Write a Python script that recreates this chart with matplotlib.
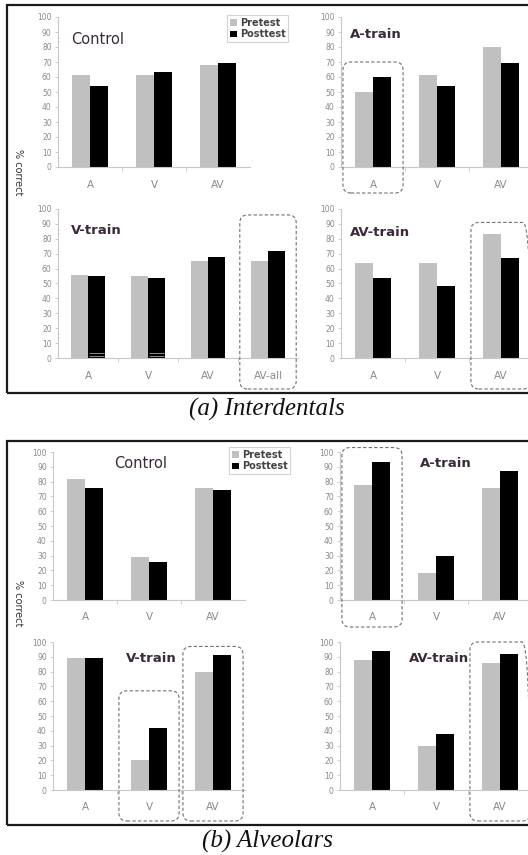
import matplotlib
matplotlib.use("Agg")
import matplotlib.pyplot as plt
from matplotlib.patches import FancyBboxPatch, Rectangle, Patch
from matplotlib.transforms import IdentityTransform
import numpy as np

# ---------------- data ----------------
cats3 = ["A", "V", "AV"]
cats4 = ["A", "V", "AV", "AV-all"]
series_names = ["Pretest", "Posttest"]

inter_control_pre = [61, 61, 68]
inter_control_post = [54, 63, 69]
inter_atrain_pre = [50, 61, 80]
inter_atrain_post = [60, 54, 69]
inter_vtrain_pre = [56, 55, 65, 65]
inter_vtrain_post = [55, 54, 68, 72]
inter_avtrain_pre = [64, 64, 83]
inter_avtrain_post = [54, 48, 67]

alv_control_pre = [82, 29, 76]
alv_control_post = [76, 26, 74]
alv_atrain_pre = [78, 18, 76]
alv_atrain_post = [93, 30, 87]
alv_vtrain_pre = [89, 20, 80]
alv_vtrain_post = [89, 42, 91]
alv_avtrain_pre = [88, 30, 86]
alv_avtrain_post = [94, 38, 92]

yticks = list(range(0, 101, 10))
captions = ["(a) Interdentals", "(b) Alveolars"]

# ---------------- figure ----------------
W, H = 528, 855
DPI = 100
fig = plt.figure(figsize=(W / DPI, H / DPI), dpi=DPI)
fig.patch.set_facecolor("white")

PRE_C = "#c0c0c0"
POST_C = "#000000"
AX_C = "#c8c8c8"
TICK_C = "#8a8a8a"
TITLE_C = "#3a2a3a"


def px_axes(left, right, top, bottom):
    return fig.add_axes([left / W, 1 - bottom / H, (right - left) / W, (bottom - top) / H])


def draw_panel(rect, cats, pre, post, title, title_xy, weight="bold", tsize=9.5):
    ax = px_axes(*rect)
    x = np.arange(len(cats))
    w = 0.28
    ax.bar(x - w / 2, pre, width=w, color=PRE_C, linewidth=0)
    ax.bar(x + w / 2, post, width=w, color=POST_C, linewidth=0)
    ax.set_xlim(-0.5, len(cats) - 0.5)
    ax.set_ylim(0, 100)
    for s in ["top", "right"]:
        ax.spines[s].set_visible(False)
    for s in ["left", "bottom"]:
        ax.spines[s].set_color(AX_C)
        ax.spines[s].set_linewidth(0.8)
    ax.set_yticks(yticks)
    ax.set_yticklabels([str(v) for v in yticks], fontsize=5.5, color=TICK_C)
    ax.tick_params(axis="y", length=2.5, width=0.6, color=AX_C, pad=2)
    ax.set_xticks(x)
    ax.set_xticklabels(cats, fontsize=7.5, color=TICK_C)
    ax.tick_params(axis="x", which="major", length=0, pad=9)
    ax.set_xticks(np.arange(0.5, len(cats) - 0.5, 1.0), minor=True)
    ax.tick_params(axis="x", which="minor", length=3, width=0.6, color=AX_C)
    ax.patch.set_alpha(0)
    fig.text(title_xy[0] / W, 1 - title_xy[1] / H, title, fontsize=tsize,
             fontweight=weight, color=TITLE_C, ha="left", va="center")
    return ax


# top group (Interdentals)
a_ctrl = draw_panel((58, 250, 17, 167), cats3, inter_control_pre, inter_control_post, "Control", (71, 40),
                    weight="normal", tsize=10.5)
a_atr = draw_panel((341, 533, 17, 167), cats3, inter_atrain_pre, inter_atrain_post, "A-train", (350, 35))
a_vtr = draw_panel((58, 298, 209, 358), cats4, inter_vtrain_pre, inter_vtrain_post, "V-train", (71, 231))
a_avtr = draw_panel((341, 533, 209, 358), cats3, inter_avtrain_pre, inter_avtrain_post, "AV-train", (350, 233))

# thin light stripes near the base of two V-train posttest bars
for ci in (0, 1):
    for yv in (1.3, 3.3):
        a_vtr.hlines(yv, ci + 0.01, ci + 0.27, color="#8a8a8a", linewidth=0.7)

# bottom group (Alveolars)
b_ctrl = draw_panel((53, 245, 452, 600), cats3, alv_control_pre, alv_control_post, "Control", (114, 463),
                    weight="normal", tsize=10.5)
b_atr = draw_panel((340, 532, 452, 600), cats3, alv_atrain_pre, alv_atrain_post, "A-train", (420, 463))
b_vtr = draw_panel((53, 245, 642, 790), cats3, alv_vtrain_pre, alv_vtrain_post, "V-train", (126, 658))
b_avtr = draw_panel((340, 532, 642, 790), cats3, alv_avtrain_pre, alv_avtrain_post, "AV-train", (409, 658))

# y labels
for yc in (172, 603):
    fig.text(18 / W, 1 - yc / H, "% correct", rotation=270, fontsize=7, color="#333333",
             ha="center", va="center")

# legends
for (lx, ly) in ((227, 15), (229, 447)):
    handles = [Patch(facecolor=PRE_C, edgecolor="none"), Patch(facecolor=POST_C, edgecolor="none")]
    leg = fig.legend(handles, series_names, loc="upper left",
                     bbox_to_anchor=(lx / W, 1 - ly / H), fontsize=7,
                     frameon=True, fancybox=False, handlelength=0.7, handleheight=0.7,
                     handletextpad=0.3, labelspacing=0.15, borderpad=0.3, borderaxespad=0)
    leg.get_frame().set_edgecolor("#c8c8c8")
    leg.get_frame().set_linewidth(0.8)
    for t in leg.get_texts():
        t.set_color("#444444")
        t.set_fontweight("bold")

# dashed rounded highlight boxes: (axes, category index, top value, bottom pixels below axis)
fig.canvas.draw()
boxes = [
    (a_atr, 0, 70, 26),
    (a_vtr, 3, 96, 31),
    (a_avtr, 2, 91, 31),
    (b_atr, 0, 103, 27),
    (b_vtr, 1, 67, 31),
    (b_vtr, 2, 97, 31),
    (b_avtr, 2, 100, 31),
]
for ax, ci, topv, below in boxes:
    x0, ytop = ax.transData.transform((ci - 0.47, topv))
    x1, ybase = ax.transData.transform((ci + 0.47, 0))
    ybot = ybase - below
    p = FancyBboxPatch((x0, ybot), x1 - x0, ytop - ybot,
                       boxstyle="round,pad=0,rounding_size=8",
                       transform=IdentityTransform(), fill=False,
                       edgecolor="#707070", linestyle=(0, (3, 2)), linewidth=0.8)
    fig.add_artist(p)

# outer frames
for (top, bottom) in ((5, 393), (441, 825)):
    r = Rectangle((7 / W, 1 - bottom / H), (530 - 7) / W, (bottom - top) / H,
                  transform=fig.transFigure, fill=False, edgecolor="#1a1a1a", linewidth=1.6)
    fig.add_artist(r)

# captions
for cap, yc in zip(captions, (409, 841)):
    fig.text(267 / W, 1 - yc / H, cap, fontsize=18, family="Liberation Serif",
             style="italic", ha="center", va="center", color="#111111")

fig.savefig("out.png", dpi=DPI)
